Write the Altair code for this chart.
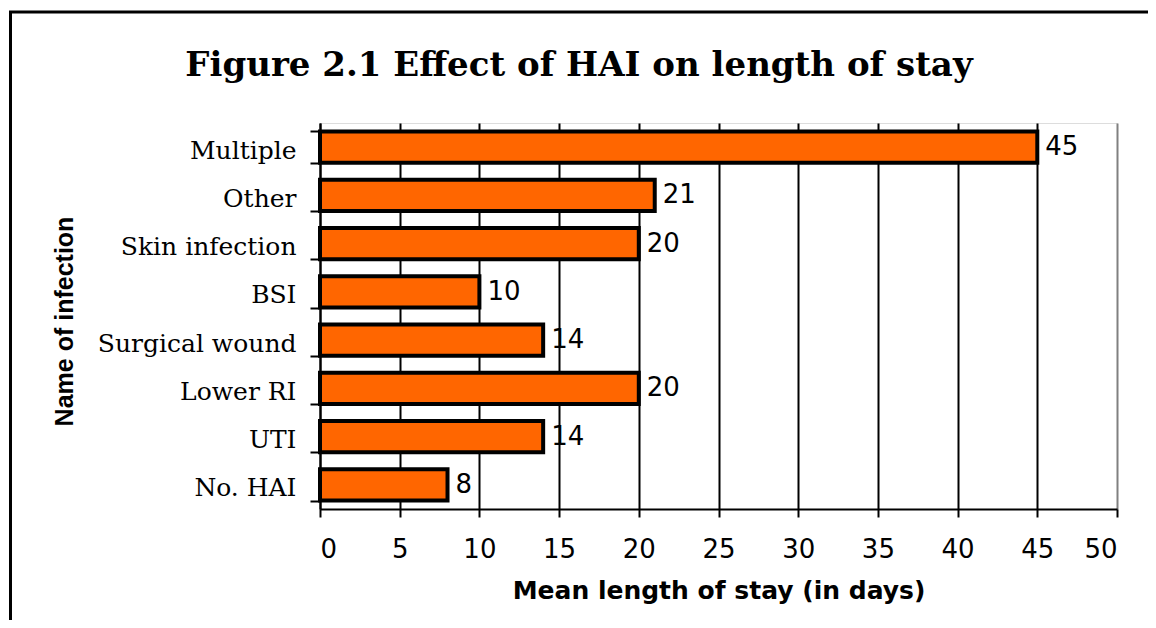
import altair as alt
import pandas as pd

categories = ["Multiple", "Other", "Skin infection", "BSI", "Surgical wound",
              "Lower RI", "UTI", "No. HAI"]
values = [45, 21, 20, 10, 14, 20, 14, 8]
x_ticks = [0, 5, 10, 15, 20, 25, 30, 35, 40, 45, 50]
title_text = "Figure 2.1 Effect of HAI on length of stay"

df = pd.DataFrame({"name": categories, "days": values})

W, H = 797, 386

y_enc = alt.Y("name:N", sort=categories,
              scale=alt.Scale(paddingInner=0.35, paddingOuter=0.175),
              axis=alt.Axis(title="Name of infection", titleFont="Liberation Sans",
                            titleFontSize=25, titleFontWeight="bold", titleColor="black",
                            titleAngle=270, titleX=-256, titleY=H / 2 + 5,
                            titleAlign="center", titleBaseline="middle",
                            labelFont="DejaVu Serif", labelFontSize=25, labelColor="black",
                            labelPadding=14, labelLimit=0, labelOffset=3,
                            tickBand="extent", tickSize=10,
                            tickWidth=2, tickColor="black", domainColor="black",
                            domainWidth=2, grid=False))

x_enc = alt.X("days:Q", scale=alt.Scale(domain=[0, 50], nice=False),
              axis=alt.Axis(title="Mean length of stay (in days)", values=x_ticks,
                            titleFont="DejaVu Sans", titleFontSize=25,
                            titleFontWeight="bold", titleColor="black",
                            titleX=W / 2, titleY=89, titleBaseline="alphabetic",
                            labelFont="DejaVu Sans", labelFontSize=26, labelColor="black",
                            labelPadding=19, tickSize=8, tickWidth=2, tickColor="black",
                            domainColor="black", domainWidth=2,
                            grid=True, gridWidth=2,
                            gridColor={"condition": {"test": "datum.value >= 50",
                                                     "value": "#808080"},
                                       "value": "black"}))

bars = alt.Chart(df).mark_bar(fill="#FF6600", stroke="black", strokeWidth=4).encode(
    x=x_enc, y=y_enc)

labels = alt.Chart(df).mark_text(align="left", baseline="middle", dx=8,
                                 font="DejaVu Sans", fontSize=26, color="black").encode(
    x="days:Q", y=alt.Y("name:N", sort=categories), text="days:Q")

title = alt.Chart(pd.DataFrame({"t": [title_text]})).mark_text(
    align="center", baseline="alphabetic", font="DejaVu Serif", fontWeight="bold",
    fontSize=34, color="black").encode(
    x=alt.value(259), y=alt.value(-47), text="t:N")

border = alt.Chart(pd.DataFrame({"a": [0]})).mark_rect(
    fill="transparent", stroke="black", strokeWidth=3, clip=False).encode(
    x=alt.value(-309.5), x2=alt.value(900), y=alt.value(-111), y2=alt.value(600))

chart = alt.layer(border, bars, labels, title).properties(
    width=W, height=H,
    autosize=alt.AutoSizeParams(type="none"),
    padding={"left": 312, "top": 115, "right": 31, "bottom": 111},
).configure_view(stroke="#808080", strokeWidth=2).configure(background="white")

chart.save("out.html", embed_options={"renderer": "svg", "actions": False})
